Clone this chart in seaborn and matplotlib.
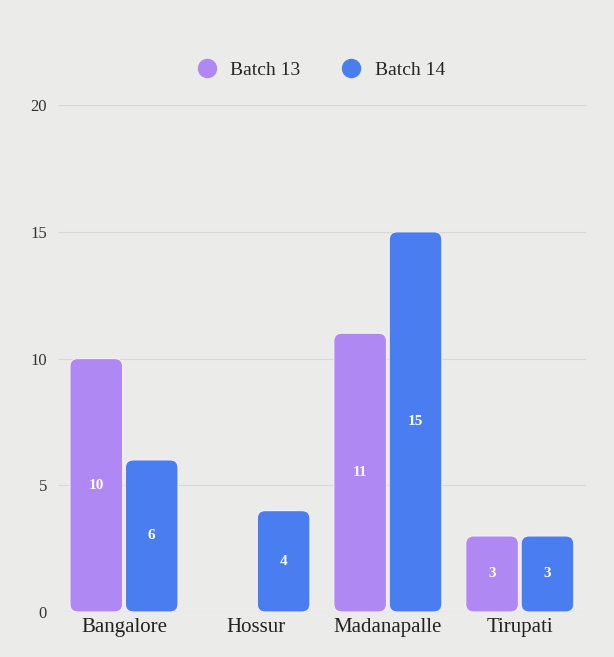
import pandas as pd
import matplotlib.pyplot as plt
import seaborn as sns
from matplotlib.patches import FancyBboxPatch

# ── Data ──────────────────────────────────────────────────────────────────────
centres   = ['Bangalore', 'Hossur', 'Madanapalle', 'Tirupati']
batch_13  = [10, 0, 11, 3]
batch_14  = [6, 4, 15, 3]
series    = ['Batch 13', 'Batch 14']
colors    = ['#b088f3', '#4a7ef0']

df = pd.DataFrame({
    'centre': centres * 2,
    'count' : batch_13 + batch_14,
    'batch' : [series[0]] * len(centres) + [series[1]] * len(centres),
})

# ── Plot ──────────────────────────────────────────────────────────────────────
sns.set_style('white')
plt.rcParams['font.family'] = ['Liberation Serif', 'DejaVu Serif']

fig = plt.figure(figsize=(6.14, 6.57), dpi=100)
fig.patch.set_facecolor('#ebebea')
ax = fig.add_axes([0.0945, 0.0685, 0.8595, 0.7715])
ax.set_facecolor('none')

sns.barplot(data=df, x='centre', y='count', hue='batch', palette=colors,
            width=0.84, gap=0.05, ax=ax, legend=False, saturation=1)

ax.set_ylim(0, 20)

# rounded top corners: swap each bar for a rounded patch
for bar in list(ax.patches):
    x, y = bar.get_x(), bar.get_y()
    w, h = bar.get_width(), bar.get_height()
    if h <= 0:
        bar.set_visible(False)
        continue
    rounded = FancyBboxPatch((x, y), w, h,
                             boxstyle='round,pad=0,rounding_size=0.06',
                             mutation_aspect=20 / (0.7715 * 657) * (0.8595 * 614) / 4.0,
                             facecolor=bar.get_facecolor(),
                             edgecolor='#f4f0ff', linewidth=0.8, zorder=2)
    ax.add_patch(rounded)
    bar.set_visible(False)

for container in ax.containers:
    labels = [str(int(v)) if v > 0 else '' for v in container.datavalues]
    ax.bar_label(container, labels=labels, label_type='center',
                 color='white', fontsize=11, fontweight='bold', zorder=3)

ax.set_yticks([0, 5, 10, 15, 20])
ax.yaxis.grid(True, color='#d8d8d8', linewidth=0.8)
ax.set_axisbelow(True)
ax.set_xlabel('')
ax.set_ylabel('')
sns.despine(ax=ax, left=True, bottom=True)
ax.tick_params(axis='y', length=0, pad=8, labelsize=12, labelcolor='#333333')
ax.tick_params(axis='x', length=0, pad=4, labelsize=15, labelcolor='#222222')

# legend with round markers
handles = [plt.Line2D([], [], marker='o', linestyle='', markersize=13,
                      color=c) for c in colors]
fig.legend(handles, series, loc='center', bbox_to_anchor=(0.515, 0.893),
           ncol=2, frameon=False, fontsize=14, handletextpad=0.2,
           columnspacing=1.6)

plt.savefig('out.png', dpi=100, facecolor=fig.get_facecolor())
